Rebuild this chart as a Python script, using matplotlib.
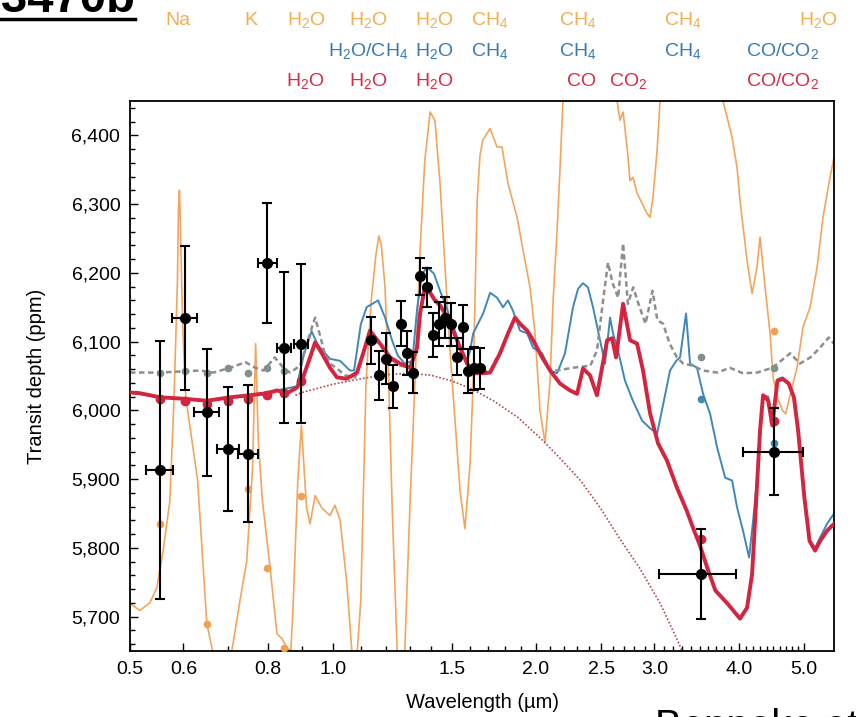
import numpy as np
import matplotlib
matplotlib.use('Agg')
import matplotlib.pyplot as plt
import matplotlib.transforms as mtransforms
from matplotlib.lines import Line2D
from matplotlib.ticker import FixedLocator, NullFormatter

plt.rcParams['font.family'] = ['Liberation Sans', 'DejaVu Sans']
plt.rcParams['mathtext.default'] = 'regular'

# ---- model spectra (wavelength in um, transit depth in ppm) ----
orange_wl = [0.500, 0.505, 0.517, 0.535, 0.548, 0.560, 0.573, 0.581, 0.588, 0.590,
             0.592, 0.593, 0.595, 0.599, 0.605, 0.630, 0.650, 0.663, 0.685, 0.708,
             0.728, 0.745, 0.760, 0.768, 0.775, 0.786, 0.807, 0.826, 0.840, 0.855,
             0.866, 0.872, 0.887, 0.898, 0.914, 0.925, 0.941, 0.963, 0.990, 1.007,
             1.025, 1.048, 1.066, 1.078, 1.087, 1.100, 1.120, 1.140, 1.158, 1.170,
             1.180, 1.195, 1.210, 1.225, 1.245, 1.262, 1.279, 1.302, 1.324, 1.347,
             1.369, 1.394, 1.417, 1.442, 1.467, 1.492, 1.518, 1.544, 1.570, 1.598,
             1.615, 1.626, 1.637, 1.653, 1.669, 1.711, 1.752, 1.782, 1.819, 1.876,
             1.915, 1.961, 1.995, 2.029, 2.064, 2.100, 2.122, 2.151, 2.173, 2.195,
             2.400, 2.640, 2.667, 2.695, 2.732, 2.760, 2.788, 2.827, 2.876, 2.926,
             2.955, 2.985, 3.027, 3.058, 3.400, 3.790, 3.911, 3.978, 4.019, 4.116,
             4.188, 4.258, 4.303, 4.378, 4.453, 4.499, 4.566, 4.646, 4.696, 4.768,
             4.882, 4.983, 5.105, 5.229, 5.336, 5.466, 5.540]
orange_ppm = [5719, 5716, 5709, 5720, 5742, 5796, 5869, 6014, 6189, 6291,
              6320, 6298, 6233, 6116, 6019, 5898, 5690, 5650, 5560, 5650,
              5723, 5781, 5917, 6097, 5956, 5869, 5771, 5675, 5668, 5655,
              5650, 5704, 5898, 5978, 5858, 5835, 5876, 5858, 5847, 5862,
              5840, 5752, 5655, 5580, 5650, 5723, 6043, 6160, 6225, 6254,
              6240, 6179, 6043, 5854, 5655, 5560, 5655, 5869, 6043, 6233,
              6364, 6434, 6422, 6330, 6208, 6087, 5985, 5883, 5828, 5923,
              6043, 6174, 6305, 6371, 6393, 6410, 6383, 6383, 6330, 6281,
              6233, 6179, 6112, 6000, 5953, 6043, 6160, 6262, 6353, 6451,
              6700, 6451, 6422, 6434, 6383, 6334, 6339, 6316, 6301, 6286,
              6281, 6310, 6378, 6451, 6700, 6451, 6397, 6353, 6305, 6218,
              6170, 6208, 6252, 6179, 6112, 6048, 6019, 6000, 5995, 6022,
              6062, 6121, 6150, 6208, 6281, 6339, 6368]

red_wl = [0.500, 0.517, 0.554, 0.599, 0.650, 0.704, 0.753, 0.799, 0.826, 0.855,
          0.884, 0.903, 0.925, 0.941, 0.963, 0.990, 1.014, 1.048, 1.086, 1.109,
          1.135, 1.175, 1.216, 1.258, 1.302, 1.333, 1.347, 1.369, 1.394, 1.417,
          1.442, 1.478, 1.508, 1.544, 1.582, 1.626, 1.671, 1.711, 1.770, 1.819,
          1.863, 1.895, 1.942, 1.982, 2.044, 2.100, 2.173, 2.248, 2.303, 2.350,
          2.407, 2.465, 2.552, 2.595, 2.631, 2.695, 2.760, 2.827, 2.885, 2.955,
          3.037, 3.131, 3.238, 3.350, 3.423, 3.506, 3.593, 3.694, 3.850, 4.019,
          4.116, 4.188, 4.231, 4.303, 4.348, 4.425, 4.487, 4.566, 4.646, 4.746,
          4.831, 4.900, 5.007, 5.096, 5.193, 5.283, 5.410, 5.540]
red_ppm = [6026, 6025, 6019, 6017, 6014, 6019, 6022, 6025, 6029, 6025,
           6033, 6048, 6077, 6099, 6083, 6062, 6048, 6046, 6055, 6083,
           6116, 6097, 6077, 6068, 6062, 6091, 6141, 6179, 6171, 6160,
           6153, 6135, 6116, 6091, 6068, 6054, 6054, 6055, 6083, 6112,
           6135, 6126, 6116, 6102, 6077, 6058, 6039, 6029, 6024, 6061,
           6051, 6022, 6102, 6105, 6077, 6155, 6102, 6097, 6058, 5996,
           5952, 5927, 5888, 5854, 5829, 5803, 5771, 5738, 5719, 5697,
           5713, 5762, 5840, 5971, 6022, 6014, 5978, 6043, 6046, 6039,
           6019, 5971, 5873, 5810, 5796, 5810, 5825, 5835]

blue_wl = [0.500, 0.554, 0.650, 0.753, 0.826, 0.884, 0.905, 0.930, 0.950, 0.990,
           1.025, 1.060, 1.075, 1.100, 1.122, 1.167, 1.195, 1.224, 1.248, 1.278,
           1.312, 1.334, 1.357, 1.380, 1.412, 1.442, 1.467, 1.508, 1.544, 1.582,
           1.598, 1.615, 1.671, 1.711, 1.752, 1.788, 1.819, 1.850, 1.895, 1.942,
           1.982, 2.044, 2.100, 2.151, 2.210, 2.271, 2.311, 2.350, 2.390, 2.432,
           2.491, 2.534, 2.578, 2.604, 2.649, 2.713, 2.787, 2.876, 2.955, 3.027,
           3.088, 3.164, 3.231, 3.274, 3.342, 3.388, 3.469, 3.542, 3.628, 3.716,
           3.820, 3.911, 3.978, 4.060, 4.145, 4.203, 4.273, 4.348, 4.425, 4.487,
           4.566, 4.646, 4.746, 4.831, 4.900, 5.007, 5.096, 5.193, 5.283, 5.410,
           5.540]
blue_ppm = [6026, 6019, 6014, 6022, 6029, 6035, 6080, 6115, 6095, 6075,
            6072, 6058, 6058, 6125, 6150, 6160, 6135, 6102, 6080, 6068,
            6072, 6150, 6199, 6208, 6199, 6174, 6155, 6123, 6094, 6072,
            6087, 6112, 6141, 6171, 6164, 6150, 6160, 6145, 6116, 6112,
            6091, 6083, 6058, 6054, 6083, 6150, 6177, 6185, 6179, 6150,
            6102, 6068, 6135, 6112, 6087, 6043, 6014, 5985, 5974, 5966,
            6007, 6058, 6072, 6077, 6141, 6068, 6062, 6024, 5995, 5946,
            5902, 5898, 5859, 5825, 5786, 5840, 5917, 6022, 6020, 5985,
            6045, 6048, 6040, 6020, 5975, 5878, 5812, 5800, 5815, 5835,
            5850]

gray_wl = [0.500, 0.554, 0.635, 0.665, 0.704, 0.742, 0.767, 0.789, 0.820, 0.846,
           0.864, 0.894, 0.918, 0.941, 0.957, 0.974, 0.990, 1.014, 1.042, 1.079,
           1.135, 1.175, 1.216, 1.258, 1.302, 1.333, 1.347, 1.369, 1.394, 1.442,
           1.478, 1.508, 1.544, 1.582, 1.626, 1.671, 1.711, 1.770, 1.819, 1.863,
           1.895, 1.942, 1.982, 2.044, 2.100, 2.151, 2.270, 2.410, 2.465, 2.520,
           2.560, 2.600, 2.650, 2.695, 2.740, 2.790, 2.840, 2.910, 2.980, 3.030,
           3.090, 3.160, 3.240, 3.310, 3.420, 3.540, 3.720, 3.880, 4.060, 4.260,
           4.490, 4.770, 4.930, 5.110, 5.280, 5.440, 5.540]
gray_ppm = [6055, 6055, 6058, 6055, 6062, 6070, 6062, 6058, 6077, 6061,
            6055, 6065, 6102, 6135, 6109, 6080, 6068, 6061, 6051, 6048,
            6110, 6095, 6075, 6065, 6062, 6090, 6140, 6178, 6172, 6153,
            6135, 6116, 6092, 6068, 6056, 6056, 6058, 6085, 6112, 6135,
            6126, 6116, 6102, 6077, 6060, 6058, 6062, 6065, 6087, 6164,
            6215, 6185, 6164, 6243, 6155, 6179, 6155, 6126, 6174, 6131,
            6126, 6097, 6077, 6068, 6065, 6058, 6055, 6062, 6054, 6055,
            6062, 6083, 6068, 6077, 6091, 6106, 6097]

dotted_wl = [0.88, 0.90, 1.00, 1.10, 1.20, 1.30, 1.40, 1.50, 1.60, 1.73,
             1.88, 2.03, 2.17, 2.33, 2.49, 2.67, 2.85, 3.06, 3.24, 3.40]
dotted_ppm = [6022, 6026, 6038, 6046, 6052, 6054, 6051, 6043, 6032, 6014,
              5990, 5960, 5931, 5898, 5859, 5812, 5771, 5719, 5667, 5620]

# binned model points
red_bin_wl = [0.554, 0.603, 0.650, 0.699, 0.748, 0.799, 0.846, 0.897, 3.52, 4.51]
red_bin_ppm = [6017, 6014, 6010, 6014, 6017, 6022, 6026, 6043, 5813, 5985]
gray_bin_wl = [0.554, 0.603, 0.650, 0.699, 0.748, 0.799, 0.846, 3.52, 4.51]
gray_bin_ppm = [6054, 6058, 6055, 6062, 6055, 6062, 6058, 6077, 6062]
blue_bin_wl = [3.52, 4.51]
blue_bin_ppm = [6017, 5953]
orange_bin_wl = [0.554, 0.650, 0.748, 0.799, 0.846, 0.897, 4.51]
orange_bin_ppm = [5835, 5690, 5886, 5771, 5655, 5876, 6116]

# ---- observations ----
opt_wl = [0.554, 0.603, 0.650, 0.699, 0.748, 0.799, 0.846, 0.897]
opt_depth = [5913, 6134, 5997, 5944, 5937, 6214, 6091, 6097]
opt_err = [188, 105, 93, 90, 100, 87, 110, 116]
opt_xerr = [0.026, 0.026, 0.027, 0.026, 0.025, 0.026, 0.020, 0.022]

wfc_wl = [1.139, 1.171, 1.199, 1.228, 1.262, 1.288, 1.315, 1.347, 1.379,
          1.408, 1.437, 1.467, 1.497, 1.528, 1.560, 1.586, 1.619, 1.653]
wfc_depth = [6102, 6051, 6075, 6035, 6126, 6083, 6055, 6195, 6179,
             6110, 6126, 6135, 6125, 6078, 6121, 6057, 6061, 6061]
wfc_err = [34, 36, 37, 31, 33, 32, 30, 27, 28,
           32, 32, 30, 31, 27, 32, 32, 31, 30]

irac_wl = [3.52, 4.51]
irac_depth = [5762, 5940]
irac_err = [65, 63]
irac_xlo = [0.47, 0.45]
irac_xhi = [0.44, 0.47]

# ---- axis ticks ----
x_ticks = [0.5, 0.6, 0.8, 1.0, 1.5, 2.0, 2.5, 3.0, 4.0, 5.0]
x_tick_labels = ['0.5', '0.6', '0.8', '1.0', '1.5', '2.0', '2.5', '3.0', '4.0', '5.0']
y_ticks = [5700, 5800, 5900, 6000, 6100, 6200, 6300, 6400]
y_tick_labels = ['5,700', '5,800', '5,900', '6,000', '6,100', '6,200', '6,300', '6,400']

# ---- molecule labels above the panel ----
lab_orange = ['Na', 'K', 'H$_2$O', 'H$_2$O', 'H$_2$O', 'CH$_4$', 'CH$_4$', 'CH$_4$', 'H$_2$O']
lab_orange_x = [0.589, 0.756, 0.912, 1.127, 1.413, 1.710, 2.31, 3.307, 5.245]
lab_blue = ['H$_2$O/CH$_4$', 'H$_2$O', 'CH$_4$', 'CH$_4$', 'CH$_4$', 'CO/CO$_2$']
lab_blue_x = [1.13, 1.413, 1.710, 2.31, 3.307, 4.65]
lab_red = ['H$_2$O', 'H$_2$O', 'H$_2$O', 'CO', 'CO$_2$', 'CO/CO$_2$']
lab_red_x = [0.909, 1.127, 1.413, 2.342, 2.741, 4.65]

c_orange = '#F3A55E'
c_blue = '#3F88B8'
c_red = '#D4243F'
c_gray = '#8E8E8E'
c_dotted = '#B8474C'

fig = plt.figure(figsize=(8.56, 7.17), dpi=100)
ax = fig.add_axes([130 / 856, 66 / 717, 704 / 856, 550 / 717])

ax.plot(orange_wl, orange_ppm, color=c_orange, lw=1.2, zorder=1)
ax.plot(dotted_wl, dotted_ppm, color=c_dotted, lw=1.2, ls=(0, (1, 1.2)), zorder=1.5)
ax.plot(blue_wl, blue_ppm, color=c_blue, lw=1.4, zorder=2)
ax.plot(gray_wl, gray_ppm, color=c_gray, lw=1.8, ls=(0, (2.2, 1.4)), zorder=2.5)
ax.plot(red_wl, red_ppm, color=c_red, lw=2.8, zorder=3)

ax.plot(orange_bin_wl, orange_bin_ppm, 'o', color='#F0A050', ms=4.5, zorder=3.5)
ax.plot(gray_bin_wl, gray_bin_ppm, 'o', color='#7E918C', ms=4.5, zorder=3.5)
ax.plot(blue_bin_wl, blue_bin_ppm, 'o', color=c_blue, ms=4.5, zorder=3.5)
ax.plot(red_bin_wl, red_bin_ppm, 'o', color=c_red, ms=6, zorder=3.6)

ekw = dict(fmt='o', color='black', ms=7, elinewidth=1.5, capsize=3.5, capthick=1.5, zorder=5)
ax.errorbar(opt_wl, opt_depth, yerr=opt_err, xerr=opt_xerr, **ekw)
ax.errorbar(wfc_wl, wfc_depth, yerr=wfc_err, **ekw)
ax.errorbar(irac_wl, irac_depth, yerr=irac_err, xerr=[irac_xlo, irac_xhi], **ekw)

ax.set_xscale('log')
ax.set_xlim(0.5, 5.54)
ax.set_ylim(5650, 6450)

minor_x = [round(v, 1) for v in np.arange(0.7, 4.95, 0.1) if round(v, 1) not in x_ticks]
ax.xaxis.set_major_locator(FixedLocator(x_ticks))
ax.xaxis.set_minor_locator(FixedLocator(minor_x))
ax.xaxis.set_minor_formatter(NullFormatter())
ax.set_xticklabels(x_tick_labels)
ax.yaxis.set_major_locator(FixedLocator(y_ticks))
ax.yaxis.set_minor_locator(FixedLocator(np.arange(5660, 6450, 20)))
ax.set_yticklabels(y_tick_labels)

ax.tick_params(which='both', direction='in', width=1.0, labelsize=14, pad=7)
ax.tick_params(which='major', length=6)
ax.tick_params(which='minor', length=3.5)
for s in ax.spines.values():
    s.set_linewidth(1.3)

ax.set_xlabel('Wavelength (\u00b5m)', fontsize=14.5)
ax.set_ylabel('Transit depth (ppm)', fontsize=14.5)
ax.xaxis.set_label_coords(0.5, -0.076)
ax.yaxis.set_label_coords(-0.12, 0.5)

trans = mtransforms.blended_transform_factory(ax.transData, ax.transAxes)
for txt, x in zip(lab_orange, lab_orange_x):
    ax.text(x, 1.138, txt, color='#F2AE52', fontsize=14, ha='center', va='baseline', transform=trans)
for txt, x in zip(lab_blue, lab_blue_x):
    ax.text(x, 1.082, txt, color='#3A7AB0', fontsize=14, ha='center', va='baseline', transform=trans)
for txt, x in zip(lab_red, lab_red_x):
    ax.text(x, 1.027, txt, color='#D92B45', fontsize=14, ha='center', va='baseline', transform=trans)

# slide title and citation, partly outside the crop as in the source image
fig.text(135 / 856, 1 - 12 / 717, 'GJ 3470b', ha='right', va='baseline',
         fontsize=34, fontweight='bold')
fig.add_artist(Line2D([0, 135 / 856], [1 - 19 / 717] * 2, lw=2.5, color='black'))
fig.text(655 / 856, 1 - 738 / 717, 'Benneke et al.', ha='left', va='baseline', fontsize=29)

fig.savefig('out.png', dpi=100)
